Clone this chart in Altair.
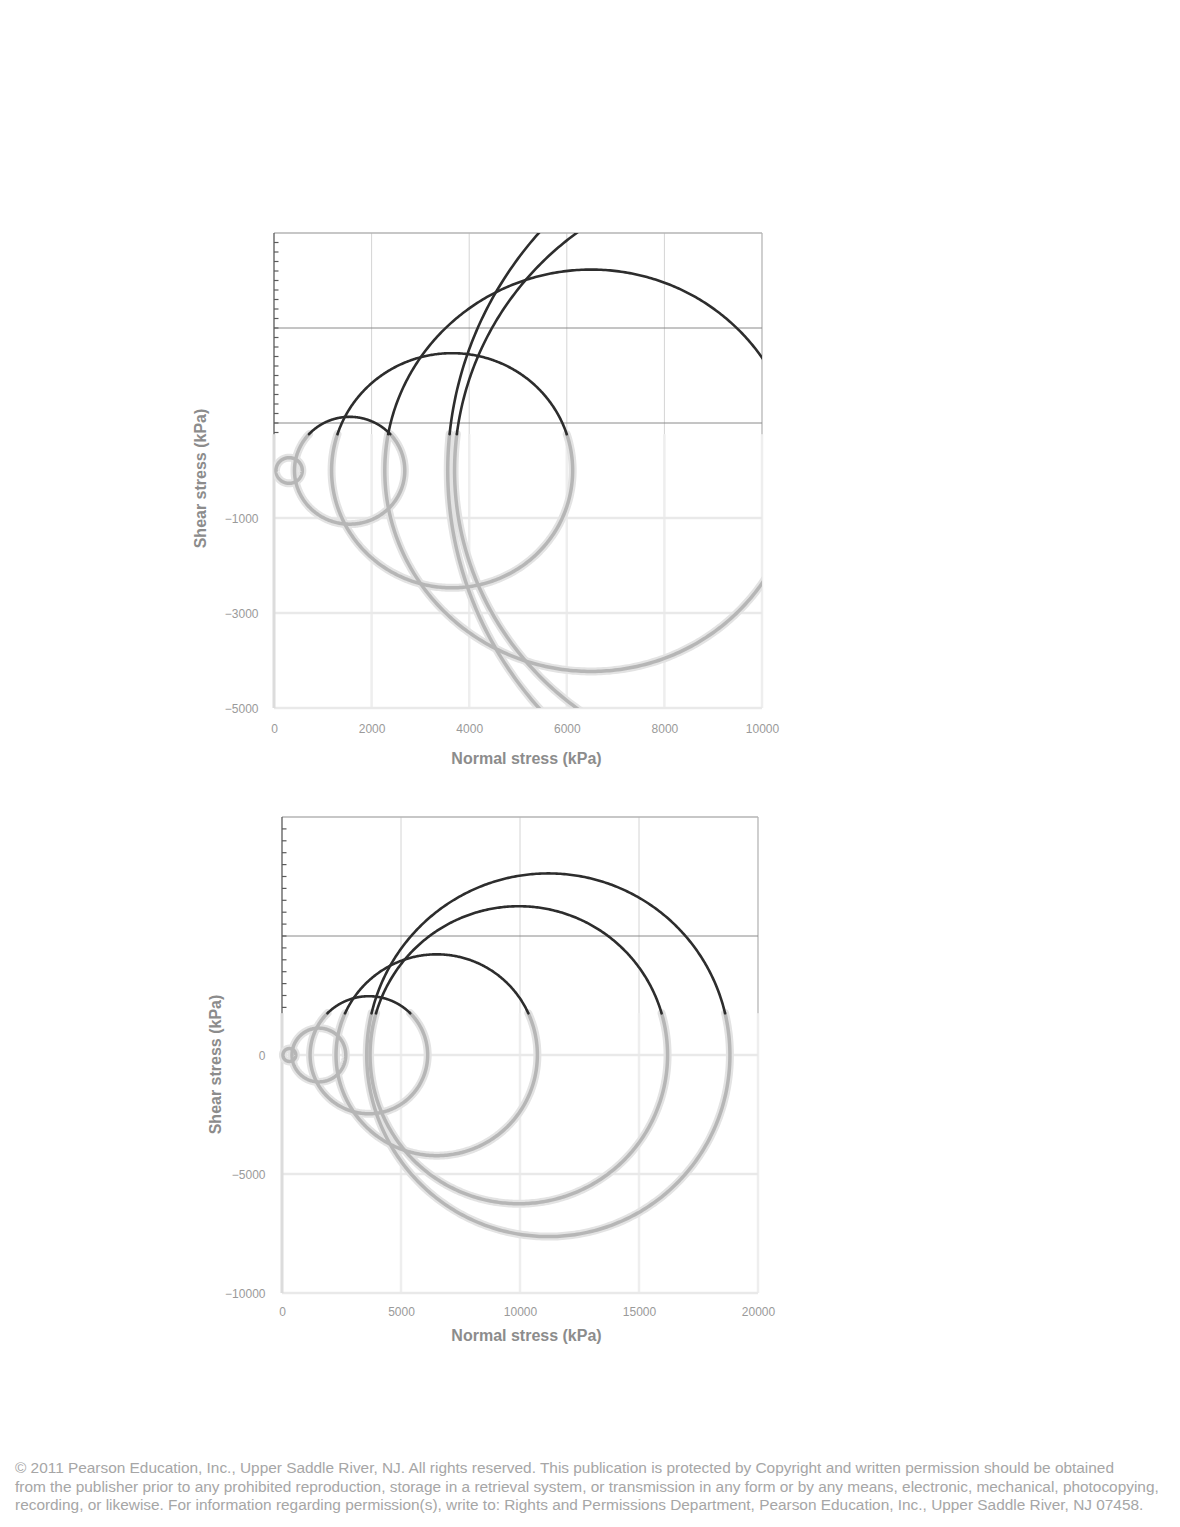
import altair as alt
import numpy as np
import pandas as pd

# Mohr circles: minor / major principal stress (kPa)
sigma3 = [40, 420, 1180, 2270, 3560, 3700]
sigma1 = [580, 2680, 6120, 10730, 18820, 16200]

# upper panel
x1_ticks = [0, 2000, 4000, 6000, 8000, 10000]
y1_lines = [5000, 3000, 1000, -1000, -3000, -5000]
y1_labels = [-1000, -3000, -5000]
x1_dom = [0, 10000]
y1_dom = [-5000, 5000]
y1_minor = list(range(4800, 700, -200))

# lower panel
x2_ticks = [0, 5000, 10000, 15000, 20000]
y2_lines = [10000, 5000, 0, -5000, -10000]
y2_labels = [0, -5000, -10000]
x2_dom = [0, 20000]
y2_dom = [-10000, 10000]
y2_minor = list(range(9500, 1700, -500))

# shear stress where the sharp top of each picture turns into the blurred part
cut1 = 764
cut2 = 1752

footer_lines = [
    "\u00a9 2011 Pearson Education, Inc., Upper Saddle River, NJ. All rights reserved. This publication is protected by Copyright and written permission should be obtained",
    "from the publisher prior to any prohibited reproduction, storage in a retrieval system, or transmission in any form or by any means, electronic, mechanical, photocopying,",
    "recording, or likewise. For information regarding permission(s), write to: Rights and Permissions Department, Pearson Education, Inc., Upper Saddle River, NJ 07458.",
]

FONT = "Liberation Sans"


def circle_parts(cut, n=260):
    rows = []
    for k, (s3, s1) in enumerate(zip(sigma3, sigma1)):
        c = (s1 + s3) / 2.0
        r = (s1 - s3) / 2.0
        if r > cut:
            a = float(np.arcsin(cut / r))
            parts = [("sharp", a, np.pi - a), ("blur", np.pi - a, 2 * np.pi + a)]
        else:
            parts = [("blur", 0.0, 2 * np.pi)]
        for seg, t0, t1 in parts:
            for i, t in enumerate(np.linspace(t0, t1, n)):
                rows.append(dict(key=f"{k}-{seg}", seg=seg, i=i,
                                 sigma=c + r * np.cos(t), tau=r * np.sin(t)))
    return pd.DataFrame(rows)


def frame_rows(xt, yl, xdom, ydom, cut, ticklen, minor):
    rows = []
    x0, x1 = xdom
    y0, y1 = ydom
    for x in xt[1:]:
        k = "rb" if x == x1 else "vg"
        rows.append(dict(x=x, x2=x, y=cut, y2=y1, kind=k + "_sharp"))
        rows.append(dict(x=x, x2=x, y=y0, y2=cut, kind="vg_blur"))
    rows.append(dict(x=x0, x2=x0, y=cut, y2=y1, kind="ax_sharp"))
    rows.append(dict(x=x0, x2=x0, y=y0, y2=cut, kind="ax_blur"))
    for y in yl:
        if y == y1:
            kind = "top_sharp"
        elif y > cut:
            kind = "hg_sharp"
        else:
            kind = "hg_blur"
        rows.append(dict(x=x0, x2=x1, y=y, y2=y, kind=kind))
    for y in minor:
        rows.append(dict(x=x0, x2=x0 + ticklen, y=y, y2=y, kind="tick"))
    return pd.DataFrame(rows)


STYLES = {
    "vg_blur": ("#eeeeee", 2.5),
    "hg_blur": ("#e9e9e9", 2.5),
    "ax_blur": ("#dcdcdc", 3),
    "vg_sharp": ("#d4d4d4", 1),
    "rb_sharp": ("#b0b0b0", 1.2),
    "top_sharp": ("#b4b4b4", 1.5),
    "hg_sharp": ("#8a8a8a", 1),
    "ax_sharp": ("#5a5a5a", 1.3),
    "tick": ("#5a5a5a", 1.2),
}


def panel(xt, yl, ylab, xdom, ydom, cut, ticklen, minor, width, height, xrange,
          lab_pad_x, lab_pad_y, ytitle_x, ytitle_y, xtitle_x, xtitle_y):
    xs = alt.Scale(domain=xdom, range=xrange, nice=False, zero=False)
    ys = alt.Scale(domain=ydom, nice=False, zero=False)
    xax = alt.Axis(values=xt, format="d", grid=False, domain=False, ticks=False,
                   labelFlush=False, labelOverlap=False, labelPadding=lab_pad_x,
                   labelFontSize=12, labelFont=FONT, labelColor="#9a9a9a",
                   title="Normal stress (kPa)", titleFont=FONT, titleFontSize=16,
                   titleFontWeight="bold", titleColor="#8c8c8c",
                   titleX=xtitle_x, titleY=xtitle_y, titleAlign="center",
                   titleBaseline="middle")
    yax = alt.Axis(values=ylab, format="d", grid=False, domain=False, ticks=False,
                   labelFlush=False, labelOverlap=False, labelPadding=lab_pad_y,
                   labelFontSize=12, labelFont=FONT, labelColor="#9a9a9a",
                   title="Shear stress (kPa)", titleFont=FONT, titleFontSize=16,
                   titleFontWeight="bold", titleColor="#8c8c8c", titleAngle=270,
                   titleX=ytitle_x, titleY=ytitle_y, titleAlign="center",
                   titleBaseline="middle")
    fr = frame_rows(xt, yl, xdom, ydom, cut, ticklen, minor)
    cc = circle_parts(cut)

    layers = []
    for kind, (col, sw) in STYLES.items():
        sub = fr[fr["kind"] == kind]
        if sub.empty:
            continue
        layers.append(
            alt.Chart(sub).mark_rule(color=col, strokeWidth=sw).encode(
                x=alt.X("x:Q", scale=xs, axis=xax),
                x2="x2:Q",
                y=alt.Y("y:Q", scale=ys, axis=yax),
                y2="y2:Q",
            )
        )

    blur = cc[cc["seg"] == "blur"]
    sharp = cc[cc["seg"] == "sharp"]
    for data, col, sw in [(blur, "#e3e3e3", 8), (blur, "#b6b6b6", 3.5),
                          (sharp, "#2d2d2d", 2.6)]:
        layers.append(
            alt.Chart(data).mark_line(color=col, strokeWidth=sw, clip=True,
                                      strokeCap="round", strokeJoin="round").encode(
                x=alt.X("sigma:Q", scale=xs, axis=xax),
                y=alt.Y("tau:Q", scale=ys, axis=yax),
                detail="key:N",
                order="i:Q",
            )
        )
    return alt.layer(*layers).properties(width=width, height=height)


c1 = panel(x1_ticks, y1_lines, y1_labels, x1_dom, y1_dom, cut1, 92, y1_minor,
           488, 475, [0, 488], 15, 16, -73.5, 245, 252, 50)
c2 = panel(x2_ticks, y2_lines, y2_labels, x2_dom, y2_dom, cut2, 189, y2_minor,
           484, 476, [8, 484], 13, 9, -59, 247, 252, 42)

chart = alt.vconcat(c1, c2, spacing=50).properties(
    padding={"left": 7, "top": 224, "right": 5, "bottom": 5},
    title=alt.TitleParams(text=footer_lines, orient="bottom", anchor="start",
                          frame="bounds", dx=-177.5, offset=118, fontSize=15.4,
                          font=FONT, fontWeight="normal", color="#a6a6a6",
                          lineHeight=18.5),
).configure_view(strokeWidth=0)

chart.save("out.html", embed_options={"renderer": "svg", "actions": False})
